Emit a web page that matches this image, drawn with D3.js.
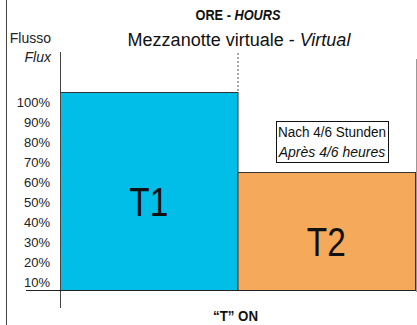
<!DOCTYPE html>
<html>
<head>
<meta charset="utf-8">
<script src="https://cdn.jsdelivr.net/npm/d3@7"></script>
<style>
  body { margin: 0; background: #fff; }
  svg { display: block; font-family: "Liberation Sans", Arial, sans-serif; }
  .cond { font-weight: bold; }
</style>
</head>
<body>
<svg id="chart" width="417" height="325"></svg>
<script>
// flow per time band
const categories = ["T1", "T2"];
const flowValues = [105, 65];
const barColors = ["#00bee8", "#f5a95a"];

// y axis ticks
const tickValues = [10, 20, 30, 40, 50, 60, 70, 80, 90, 100];
const tickLabels = ["10%", "20%", "30%", "40%", "50%", "60%", "70%", "80%", "90%", "100%"];
const baseValue = 6;

const svg = d3.select("#chart");

const x = d3.scaleBand()
    .domain(categories)
    .range([60, 415])
    .paddingInner(0)
    .paddingOuter(0);

const y = d3.scaleLinear()
    .domain([10, 100])
    .range([282.5, 102.5]);

// outer frame bits
svg.append("line")
    .attr("x1", 6.5).attr("x2", 6.5)
    .attr("y1", 0).attr("y2", 325)
    .attr("stroke", "#444").attr("stroke-width", 1);
svg.append("line")
    .attr("x1", 416.5).attr("x2", 416.5)
    .attr("y1", 59).attr("y2", 292)
    .attr("stroke", "#999").attr("stroke-width", 1);

// bars
svg.selectAll(".bar")
    .data(categories)
    .enter()
    .append("rect")
    .attr("class", "bar")
    .attr("x", d => x(d) + 0.5)
    .attr("y", (d, i) => y(flowValues[i]))
    .attr("width", x.bandwidth())
    .attr("height", (d, i) => y(baseValue) - y(flowValues[i]))
    .attr("fill", (d, i) => barColors[i])
    .attr("stroke", "#333")
    .attr("stroke-width", 1);

// labels sit a bit below the middle of each bar
svg.selectAll(".barLabel")
    .data(categories)
    .enter()
    .append("text")
    .attr("class", "barLabel")
    .attr("x", d => x(d) + x.bandwidth() / 2)
    .attr("y", (d, i) => (y(flowValues[i]) + y(baseValue)) / 2)
    .attr("dy", "0.61em")
    .attr("text-anchor", "middle")
    .attr("font-size", 40)
    .attr("textLength", 39)
    .attr("lengthAdjust", "spacingAndGlyphs")
    .attr("fill", "#111")
    .text(d => d);

// dotted marker for virtual midnight
svg.append("line")
    .attr("x1", x("T2") + 0.5).attr("x2", x("T2") + 0.5)
    .attr("y1", 53).attr("y2", y(flowValues[0]))
    .attr("stroke", "#555")
    .attr("stroke-dasharray", "2,2");

// axes
svg.append("line")
    .attr("x1", 60.5).attr("x2", 60.5)
    .attr("y1", 52).attr("y2", 308)
    .attr("stroke", "#444");
svg.append("line")
    .attr("x1", 26).attr("x2", 415)
    .attr("y1", y(baseValue)).attr("y2", y(baseValue))
    .attr("stroke", "#222");

const yAxis = svg.append("g")
    .attr("transform", "translate(60,0)")
    .call(d3.axisLeft(y)
        .tickValues(tickValues)
        .tickFormat((d, i) => tickLabels[i])
        .tickSize(0)
        .tickPadding(10));
yAxis.select(".domain").remove();
yAxis.selectAll("text")
    .attr("font-size", 13)
    .attr("font-family", "'Liberation Sans', Arial, sans-serif")
    .attr("fill", "#222");

// titles
svg.append("text")
    .attr("class", "cond")
    .attr("x", 238).attr("y", 20)
    .attr("text-anchor", "middle")
    .attr("font-size", 14)
    .attr("textLength", 85)
    .attr("lengthAdjust", "spacingAndGlyphs")
    .attr("fill", "#111")
    .html('ORE - <tspan font-style="italic">HOURS</tspan>');

svg.append("text")
    .attr("x", 239).attr("y", 46)
    .attr("text-anchor", "middle")
    .attr("font-size", 18)
    .attr("fill", "#111")
    .html('Mezzanotte virtuale - <tspan font-style="italic">Virtual</tspan>');

svg.append("text")
    .attr("x", 51).attr("y", 43)
    .attr("text-anchor", "end")
    .attr("font-size", 14)
    .attr("fill", "#222")
    .text("Flusso");
svg.append("text")
    .attr("x", 51).attr("y", 62)
    .attr("text-anchor", "end")
    .attr("font-size", 14)
    .attr("font-style", "italic")
    .attr("fill", "#222")
    .text("Flux");

svg.append("text")
    .attr("class", "cond")
    .attr("x", x("T2") - 2).attr("y", 321)
    .attr("text-anchor", "middle")
    .attr("font-size", 14)
    .attr("textLength", 45)
    .attr("lengthAdjust", "spacingAndGlyphs")
    .attr("fill", "#111")
    .text("\u201CT\u201D ON");

// note box
const note = svg.append("g");
note.append("rect")
    .attr("x", 276.5).attr("y", 121.5)
    .attr("width", 112).attr("height", 41)
    .attr("fill", "#fff")
    .attr("stroke", "#111");
note.append("text")
    .attr("x", 332).attr("y", 137)
    .attr("text-anchor", "middle")
    .attr("font-size", 14)
    .attr("textLength", 108)
    .attr("lengthAdjust", "spacingAndGlyphs")
    .attr("fill", "#111")
    .text("Nach 4/6 Stunden");
note.append("text")
    .attr("x", 332).attr("y", 157)
    .attr("text-anchor", "middle")
    .attr("font-size", 14)
    .attr("font-style", "italic")
    .attr("fill", "#111")
    .text("Après 4/6 heures");
</script>
</body>
</html>
